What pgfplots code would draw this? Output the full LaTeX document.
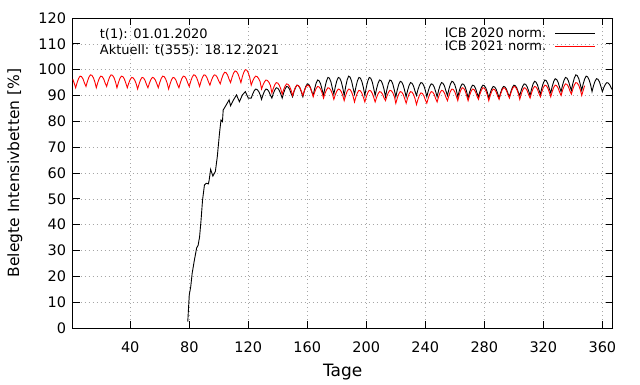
\documentclass[border=0pt]{standalone}
\usepackage{fontspec}
\setmainfont{DejaVu Sans}
\usepackage{pgfplots}
\pgfplotsset{compat=1.18}
\usepackage{pgfplotstable}

\pgfplotstableread{
x y
1 96.4
2 94.8
3 93
4 95.0
5 96.6
6 97.5
7 97.3
8 96.4
9 94.8
10 93.5
11 95.5
12 97.1
13 98
14 97.8
15 96.9
16 95.3
17 93
18 95
19 96.6
20 97.5
21 97.3
22 96.4
23 94.8
24 93.5
25 95.5
26 97.1
27 98
28 97.8
29 96.9
30 95.3
31 93
32 95
33 96.6
34 97.5
35 97.3
36 96.4
37 94.8
38 93
39 94.8
40 96.2
41 97
42 96.8
43 96
44 94.6
45 92.5
46 94.5
47 96.1
48 97
49 96.8
50 95.9
51 94.3
52 93
53 94.8
54 96.2
55 97
56 96.8
57 96
58 94.6
59 93
60 95
61 96.6
62 97.5
63 97.3
64 96.4
65 94.8
66 92.5
67 94.5
68 96.1
69 97
70 96.8
71 95.9
72 94.3
73 93
74 95
75 96.6
76 97.5
77 97.3
78 96.4
79 94.8
80 93.5
81 95.5
82 97.1
83 98
84 97.8
85 96.9
86 95.3
87 93.5
88 95.5
89 97.1
90 98
91 97.8
92 96.9
93 95.3
94 94
95 95.8
96 97.2
97 98
98 97.8
99 97
100 95.6
101 94.5
102 96.5
103 98.1
104 99
105 98.8
106 97.9
107 96.3
108 95
109 97
110 98.6
111 99.5
112 99.3
113 98.4
114 96.8
115 95
116 97.3
117 99
118 100
119 99.8
120 98.8
121 97
122 94
123 95.6
124 96.8
125 97.5
126 97.3
127 96.6
128 95.4
129 92.5
130 94.1
131 95.3
132 96
133 95.8
134 95.1
135 93.9
136 91
137 92.8
138 94.2
139 95
140 94.8
141 94
142 92.6
143 90.5
144 92.3
145 93.7
146 94.5
147 94.3
148 93.5
149 92.1
150 90
151 91.8
152 93.2
153 94
154 93.8
155 93
156 91.6
157 90
158 91.8
159 93.2
160 94
161 93.8
162 93
163 91.6
164 89.5
165 91.3
166 92.7
167 93.5
168 93.3
169 92.5
170 91.1
171 89
172 90.8
173 92.2
174 93
175 92.8
176 92
177 90.6
178 88.5
179 90.3
180 91.7
181 92.5
182 92.3
183 91.5
184 90.1
185 88
186 90
187 91.6
188 92.5
189 92.3
190 91.4
191 89.8
192 87.5
193 89.5
194 91.1
195 92
196 91.8
197 90.9
198 89.3
199 87.5
200 89.5
201 91.1
202 92
203 91.8
204 90.9
205 89.3
206 87.5
207 89.3
208 90.7
209 91.5
210 91.3
211 90.5
212 89.1
213 88
214 89.8
215 91.2
216 92
217 91.8
218 91
219 89.6
220 87
221 89
222 90.6
223 91.5
224 91.3
225 90.4
226 88.8
227 87
228 89
229 90.6
230 91.5
231 91.3
232 90.4
233 88.8
234 86.5
235 88.5
236 90.1
237 91
238 90.8
239 89.9
240 88.3
241 87
242 89
243 90.6
244 91.5
245 91.3
246 90.4
247 88.8
248 87.5
249 89.5
250 91.1
251 92
252 91.8
253 90.9
254 89.3
255 88
256 90
257 91.6
258 92.5
259 92.3
260 91.4
261 89.8
262 88
263 90.3
264 92
265 93
266 92.8
267 91.8
268 90
269 88
270 90
271 91.6
272 92.5
273 92.3
274 91.4
275 89.8
276 88.5
277 90.5
278 92.1
279 93
280 92.8
281 91.9
282 90.3
283 88
284 90
285 91.6
286 92.5
287 92.3
288 91.4
289 89.8
290 88.5
291 90.5
292 92.1
293 93
294 92.8
295 91.9
296 90.3
297 89
298 91
299 92.6
300 93.5
301 93.3
302 92.4
303 90.8
304 88.5
305 90.5
306 92.1
307 93
308 92.8
309 91.9
310 90.3
311 89
312 91
313 92.6
314 93.5
315 93.3
316 92.4
317 90.8
318 89.5
319 91.5
320 93.1
321 94
322 93.8
323 92.9
324 91.3
325 89.5
326 91.5
327 93.1
328 94
329 93.8
330 92.9
331 91.3
332 90
333 92
334 93.6
335 94.5
336 94.3
337 93.4
338 91.8
339 90.5
340 92.5
341 94.1
342 95
343 94.8
344 93.9
345 92.3
346 90
347 92
348 93.8
}\redtable

\pgfplotstableread{
x y
79 2.5
80 12.8
81 16
82 21.3
83.3 25.7
85 31
86 32
87 35.3
88 41.8
89 49.5
90.3 55.4
91.5 56
93 55.8
93.5 57.3
94.5 61.4
96 58.8
97.7 60.6
99 66.3
100.5 75.4
101.5 80.5
102.5 79.9
103 84.4
105 86.3
107 88.3
108 86
110 88.3
112 90.2
114 87.6
116 90.2
118 91.5
120 89
122 89
123 90.6
124 91.8
125 92.5
126 92.3
127 91.6
128 90.4
129 88.5
130 90.3
131 91.7
132 92.5
133 92.3
134 91.5
135 90.1
136 89
137 90.8
138 92.2
139 93
140 92.8
141 92
142 90.6
143 89
144 91
145 92.6
146 93.5
147 93.3
148 92.4
149 90.8
150 89.5
151 91.5
152 93.1
153 94
154 93.8
155 92.9
156 91.3
157 89.5
158 91.8
159 93.5
160 94.5
161 94.3
162 93.3
163 91.5
164 90
165 92.7
166 94.8
167 96
168 95.7
169 94.5
170 92.4
171 90
172 93.2
173 95.6
174 97
175 96.7
176 95.3
177 92.8
178 90.5
179 93.4
180 95.7
181 97
182 96.7
183 95.4
184 93.1
185 90
186 93.4
187 96
188 97.5
189 97.1
190 95.6
191 93
192 90.5
193 93.4
194 95.7
195 97
196 96.7
197 95.4
198 93.1
199 90
200 93.2
201 95.6
202 97
203 96.7
204 95.3
205 92.8
206 90
207 92.7
208 94.8
209 96
210 95.7
211 94.5
212 92.4
213 89.5
214 92.4
215 94.7
216 96
217 95.7
218 94.4
219 92.1
220 89.5
221 92.2
222 94.3
223 95.5
224 95.2
225 94
226 91.9
227 89.5
228 92
229 93.9
230 95
231 94.7
232 93.6
233 91.7
234 90
235 92.3
236 94
237 95
238 94.8
239 93.8
240 92
241 89.5
242 91.8
243 93.5
244 94.5
245 94.3
246 93.3
247 91.5
248 89.5
249 92
250 93.9
251 95
252 94.7
253 93.6
254 91.7
255 90
256 92.5
257 94.4
258 95.5
259 95.2
260 94.1
261 92.2
262 89.5
263 91.8
264 93.5
265 94.5
266 94.3
267 93.3
268 91.5
269 89
270 91.3
271 93
272 94
273 93.8
274 92.8
275 91
276 89.5
277 91.5
278 93.1
279 94
280 93.8
281 92.9
282 91.3
283 89
284 91
285 92.6
286 93.5
287 93.3
288 92.4
289 90.8
290 89
291 91
292 92.6
293 93.5
294 93.3
295 92.4
296 90.8
297 89.5
298 91.5
299 93.1
300 94
301 93.8
302 92.9
303 91.3
304 90
305 92
306 93.6
307 94.5
308 94.3
309 93.4
310 91.8
311 90
312 92.5
313 94.4
314 95.5
315 95.2
316 94.1
317 92.2
318 90.5
319 93
320 94.9
321 96
322 95.7
323 94.6
324 92.7
325 91
326 93.5
327 95.4
328 96.5
329 96.2
330 95.1
331 93.2
332 91.5
333 94
334 95.9
335 97
336 96.7
337 95.6
338 93.7
339 92
340 94.7
341 96.8
342 98
343 97.7
344 96.5
345 94.4
346 92
347 94.5
348 96.4
349 97.5
350 97.2
351 96.1
352 94.2
353 91.5
354 93.8
355 95.5
356 96.5
357 96.3
358 95.3
359 93.5
360 91.5
361 93.1
362 94.3
363 95
364 94.8
365 94.1
366 92.9
367 92
}\blacktable

\begin{document}
\begin{tikzpicture}
\begin{axis}[
  at={(0pt,0pt)}, anchor=south west,
  scale only axis, width=540pt, height=310pt,
  xmin=1, xmax=367, ymin=0, ymax=120,
  xtick={40,80,...,360}, ytick={0,10,...,120},
  tick align=inside, xtick pos=both, ytick pos=both,
  major tick length=7pt,
  grid=major,
  grid style={gray!70, line width=0.6pt, dash pattern=on 1pt off 3pt},
  axis line style={line width=0.9pt},
  tick style={black, line width=0.8pt},
  /pgf/number format/assume math mode=true,
  ticklabel style={font=\fontsize{14.5}{17}\selectfont},
  xticklabel style={yshift=-10pt},
  yticklabel style={xshift=-3pt},
  xlabel={Tage}, ylabel={Belegte Intensivbetten [\%]},
  xlabel style={font=\fontsize{17}{20}\selectfont, at={(axis description cs:0.5,-0.142)}, anchor=center},
  ylabel style={font=\fontsize{15.5}{18}\selectfont, at={(axis description cs:-0.107,0.5)}, anchor=center, rotate=0},
  legend style={draw=none, fill=none, at={(0.879,0.972)}, anchor=north east,
    font=\fontsize{13}{15}\selectfont, row sep=0pt, inner sep=0pt, column sep=0pt,
    nodes={inner sep=1pt}},
  legend cell align=left,
  legend image code/.code={\path (0pt,0pt); \draw[#1, overlay] (112pt,0pt) -- (152pt,0pt);},
]
\addplot[color=black, line width=0.9pt, mark=none] table[x=x,y=y] {\blacktable};
\addlegendentry{ICB 2020 norm.}
\addplot[color=red, line width=0.9pt, mark=none] table[x=x,y=y] {\redtable};
\addlegendentry{ICB 2021 norm.}
\node[anchor=west, font=\fontsize{13}{15}\selectfont, inner sep=0pt] at (rel axis cs:0.05,0.946) {t(1): 01.01.2020};
\node[anchor=west, font=\fontsize{13}{15}\selectfont, inner sep=0pt] at (rel axis cs:0.05,0.894) {Aktuell: t(355): 18.12.2021};
\end{axis}
\useasboundingbox (-72.7pt,-56pt) rectangle (567.3pt,328pt);
\end{tikzpicture}
\end{document}
